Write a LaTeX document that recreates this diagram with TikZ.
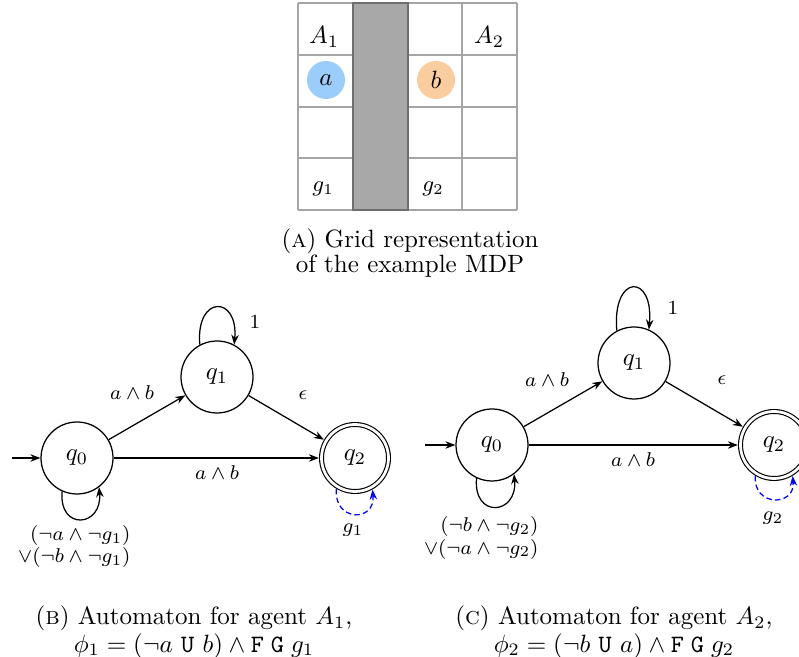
\documentclass[tikz,border=0pt]{standalone}
\usetikzlibrary{arrows.meta}
\definecolor{gridline}{RGB}{165,165,165}
\definecolor{wallfill}{RGB}{168,168,168}
\definecolor{walledge}{RGB}{110,110,110}
\definecolor{agentblue}{RGB}{155,205,250}
\definecolor{agentorange}{RGB}{250,205,158}
\begin{document}
\begin{tikzpicture}[x=0.4pt,y=0.4pt,
  state/.style={circle,draw,line width=0.5pt,minimum size=28.8pt,inner sep=0pt},
  finalstate/.style={circle,draw,line width=0.45pt,double,double distance=1.1pt,
    minimum size=26.8pt,inner sep=0pt,outer sep=1.05pt},
  trans/.style={-{Stealth[length=4pt,width=3pt]},line width=0.5pt},
  goalloop/.style={trans,blue,dash pattern=on 2.2pt off 1.3pt},
  lbl/.style={font=\footnotesize,inner sep=0pt},
  cellline/.style={draw=gridline,line width=0.5pt},
  marker/.style={circle,inner sep=0pt,minimum size=15.2pt},
  captext/.style={align=center,inner sep=0pt}
]
\useasboundingbox (0,0) rectangle (799,-657);

% ---------- grid world ----------
\fill[wallfill] (353,-3) rectangle (408,-210);
\foreach \y in {3,55,107,158,210} {
  \draw[cellline] (298,-\y) -- (353,-\y);
  \draw[cellline] (408,-\y) -- (517,-\y);
}
\foreach \x in {298,462,517} \draw[cellline] (\x,-3) -- (\x,-210);
\draw[walledge,line width=0.5pt] (353,-3) rectangle (408,-210);

\node (A1) at (324,-37) {$A_1$};
\node (A2) at (489,-37) {$A_2$};
\node[marker,fill=agentblue] (ma) at (326,-80) {$a$};
\node[marker,fill=agentorange] (mb) at (436,-80) {$b$};
\node[font=\small] (G1) at (323,-189) {$g_1$};
\node[font=\small] (G2) at (433,-189) {$g_2$};

\node[captext] (capA) at (410,-253) {(\textsc{a}) Grid representation\\[-2pt] of the example MDP};

% ---------- automaton for agent A1 ----------
\node[state] (l0) at (77,-458) {$q_0$};
\node[state] (l1) at (217,-377) {$q_1$};
\node[finalstate] (l2) at (355,-458) {$q_2$};
\coordinate (lstart) at (12,-458);

\draw[trans] (lstart) -- (l0);
\draw[trans] (l0) -- (l1);
\draw[trans] (l1) -- (l2);
\draw[trans] (l0) -- (l2);
\draw[trans] (l1.118) .. controls +(95:50) and +(85:50) .. (l1.62);
\draw[trans] (l0.246) .. controls +(265:40) and +(275:40) .. (l0.307);
\draw[goalloop] (l2.239) .. controls +(265:33) and +(275:33) .. (l2.299);

\node[lbl] (la) at (132,-393) {$a \land b$};
\node[lbl] (lone) at (255,-322) {$1$};
\node[lbl] (leps) at (303,-395) {$\epsilon$};
\node[lbl] (lab) at (217,-473) {$a \land b$};
\node[lbl,align=right,anchor=east] (lstay) at (131,-547)
  {$(\neg a \land \neg g_1)$\\[-0.7pt]$\lor(\neg b \land \neg g_1)$};
\node[lbl] (lg) at (353,-530) {$g_1$};

\node[captext] (capB) at (194,-632)
  {(\textsc{b}) Automaton for agent $A_1$,\\[-1pt]
   $\phi_1 = (\neg a\ \mathtt{U}\ b) \land \mathtt{F}\;\mathtt{G}\; g_1$};

% ---------- automaton for agent A2 ----------
\node[state] (r0) at (492,-445) {$q_0$};
\node[state] (r1) at (634,-363) {$q_1$};
\node[finalstate] (r2) at (774,-445) {$q_2$};
\coordinate (rstart) at (425,-445);

\draw[trans] (rstart) -- (r0);
\draw[trans] (r0) -- (r1);
\draw[trans] (r1) -- (r2);
\draw[trans] (r0) -- (r2);
\draw[trans] (r1.118) .. controls +(95:57) and +(85:57) .. (r1.66);
\draw[trans] (r0.245) .. controls +(265:41) and +(275:41) .. (r0.307);
\draw[goalloop] (r2.239) .. controls +(265:31) and +(275:31) .. (r2.301);

\node[lbl] (ra) at (547,-380) {$a \land b$};
\node[lbl] (rone) at (673,-308) {$1$};
\node[lbl] (reps) at (722,-380) {$\epsilon$};
\node[lbl] (rab) at (633,-460) {$a \land b$};
\node[lbl,align=right,anchor=east] (rstay) at (539,-538)
  {$(\neg b \land \neg g_2)$\\[-0.7pt]$\lor(\neg a \land \neg g_2)$};
\node[lbl] (rg) at (773,-518) {$g_2$};

\node[captext] (capC) at (614,-632)
  {(\textsc{c}) Automaton for agent $A_2$,\\[-1pt]
   $\phi_2 = (\neg b\ \mathtt{U}\ a) \land \mathtt{F}\;\mathtt{G}\; g_2$};
\end{tikzpicture}
\end{document}
